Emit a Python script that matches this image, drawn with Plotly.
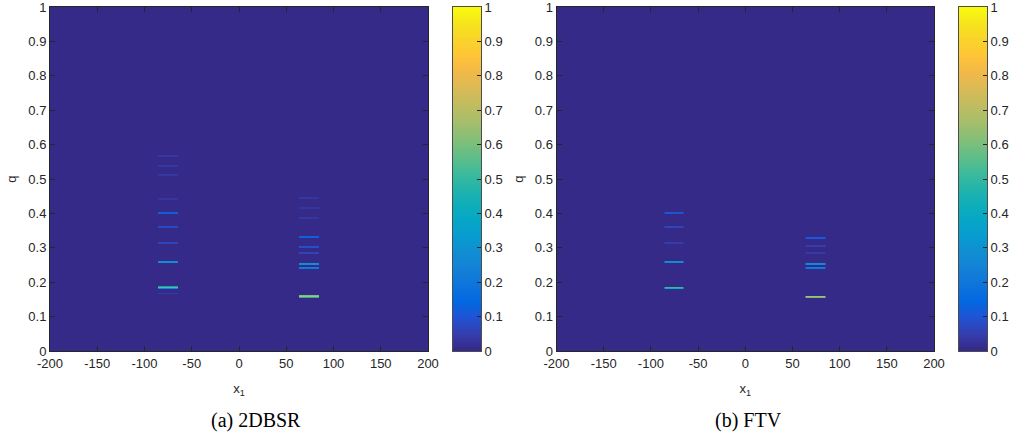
import numpy as np
import plotly.graph_objects as go

# ---------------- data ----------------
x_edges = [-200, -86, -65, 64, 85, 200]          # column edges (x1); bands at columns 1 and 3
q_rows = 333                                      # q grid 0..1

# 2DBSR, band near x1 = -76
bsr_a_q = [0.568, 0.565, 0.539, 0.536, 0.510, 0.507, 0.442, 0.439, 0.403, 0.400,
           0.361, 0.358, 0.314, 0.311, 0.258, 0.255, 0.186, 0.183, 0.180, 0.164]
bsr_a_v = [0.04, 0.03, 0.04, 0.03, 0.04, 0.03, 0.03, 0.03, 0.13, 0.11,
           0.08, 0.07, 0.07, 0.06, 0.27, 0.30, 0.36, 0.55, 0.25, 0.04]
# 2DBSR, band near x1 = 75
bsr_b_q = [0.443, 0.440, 0.414, 0.411, 0.387, 0.384, 0.329, 0.326, 0.303, 0.300,
           0.284, 0.281, 0.252, 0.249, 0.240, 0.237, 0.158, 0.155, 0.152]
bsr_b_v = [0.03, 0.03, 0.03, 0.03, 0.03, 0.03, 0.13, 0.12, 0.09, 0.08,
           0.06, 0.06, 0.30, 0.28, 0.22, 0.20, 0.60, 0.70, 0.45]
# FTV, band near x1 = -76
ftv_a_q = [0.402, 0.399, 0.361, 0.358, 0.314, 0.311, 0.258, 0.255, 0.184, 0.181]
ftv_a_v = [0.10, 0.09, 0.07, 0.06, 0.05, 0.04, 0.30, 0.26, 0.50, 0.42]
# FTV, band near x1 = 75
ftv_b_q = [0.328, 0.325, 0.305, 0.302, 0.285, 0.282, 0.252, 0.249, 0.241, 0.238, 0.157, 0.154]
ftv_b_v = [0.12, 0.10, 0.05, 0.05, 0.04, 0.04, 0.28, 0.26, 0.22, 0.20, 0.68, 0.58]

x_ticks = [-200, -150, -100, -50, 0, 50, 100, 150, 200]
q_ticks = [0, 0.1, 0.2, 0.3, 0.4, 0.5, 0.6, 0.7, 0.8, 0.9, 1]
cbar_levels = np.linspace(0, 1, 256)
captions = ["(a) 2DBSR", "(b) FTV"]

# parula colormap samples
parula = [
    (0.2081, 0.1663, 0.5292), (0.2081, 0.2386, 0.6771), (0.1253, 0.3242, 0.8303),
    (0.0060, 0.4086, 0.8828), (0.0498, 0.4586, 0.8641), (0.0779, 0.5040, 0.8384),
    (0.0641, 0.5570, 0.8240), (0.0265, 0.6137, 0.8135), (0.0228, 0.6535, 0.7768),
    (0.0590, 0.6838, 0.7254), (0.1453, 0.7098, 0.6646), (0.2586, 0.7317, 0.5954),
    (0.3953, 0.7459, 0.5244), (0.5300, 0.7491, 0.4661), (0.6473, 0.7456, 0.4188),
    (0.7525, 0.7384, 0.3768), (0.8507, 0.7299, 0.3360), (0.9450, 0.7261, 0.2886),
    (0.9990, 0.7653, 0.2164), (0.9789, 0.8271, 0.1633), (0.9589, 0.8949, 0.1132),
    (0.9763, 0.9831, 0.0538),
]
colorscale = [[i / (len(parula) - 1),
               "rgb(%d,%d,%d)" % tuple(round(c * 255) for c in p)] for i, p in enumerate(parula)]


def build_z(a_q, a_v, b_q, b_v):
    z = np.zeros((q_rows, len(x_edges) - 1))
    for q, v in zip(a_q, a_v):
        z[min(int(round(q * q_rows)), q_rows - 1), 1] = v
    for q, v in zip(b_q, b_v):
        z[min(int(round(q * q_rows)), q_rows - 1), 3] = v
    return z


y_edges = np.linspace(0, 1, q_rows + 1)
z_bsr = build_z(bsr_a_q, bsr_a_v, bsr_b_q, bsr_b_v)
z_ftv = build_z(ftv_a_q, ftv_a_v, ftv_b_q, ftv_b_v)

W, H = 1009, 447
AX = "#262626"
FONT = "Liberation Sans, Arial, Helvetica, sans-serif"
tfont = dict(family=FONT, size=13, color=AX)

plot_top, plot_bot = 7, 351
panels = [(50, 428, 453, 481), (556.5, 934, 959, 987)]
ydom = [1 - plot_bot / H, 1 - plot_top / H]

fig = go.Figure()
for i, (z, (x0, x1, c0, c1)) in enumerate(zip([z_bsr, z_ftv], panels)):
    n = 2 * i + 1
    xa, ya = "x%d" % n, "y%d" % n
    xc, yc = "x%d" % (n + 1), "y%d" % (n + 1)
    fig.add_trace(go.Heatmap(
        z=z, x=x_edges, y=y_edges, zmin=0, zmax=1, zsmooth=False,
        colorscale=colorscale, xaxis=xa, yaxis=ya, hoverinfo="skip", showscale=False))
    # colour bar as its own small axes
    fig.add_trace(go.Heatmap(
        z=cbar_levels.reshape(-1, 1), x=[0, 1], y=np.linspace(0, 1, len(cbar_levels) + 1),
        zmin=0, zmax=1, zsmooth=False, colorscale=colorscale,
        xaxis=xc, yaxis=yc, hoverinfo="skip", showscale=False))

    axis_common = dict(showgrid=False, zeroline=False, showline=True, linecolor=AX, linewidth=1,
                       ticks="inside", ticklen=5, tickcolor=AX, mirror="ticks",
                       tickfont=tfont, ticklabeloverflow="allow", automargin=False)
    fig.layout["xaxis%d" % n] = dict(
        axis_common, domain=[x0 / W, x1 / W], range=[-200, 200], anchor=ya,
        tickmode="array", tickvals=x_ticks, ticktext=[str(t) for t in x_ticks],
        title=dict(text="x<sub>1</sub>", font=tfont, standoff=14),
    )
    fig.layout["yaxis%d" % n] = dict(
        axis_common, domain=ydom, range=[0, 1], anchor=xa,
        tickmode="array", tickvals=q_ticks, ticktext=[str(t) for t in q_ticks],
        title=dict(text="q", font=tfont, standoff=8),
    )
    fig.layout["xaxis%d" % (n + 1)] = dict(
        domain=[c0 / W, c1 / W], range=[0, 1], anchor=yc, showgrid=False, zeroline=False,
        showticklabels=False, ticks="", showline=True, mirror=True, linecolor="#4d4d4d",
        linewidth=1, automargin=False)
    fig.layout["yaxis%d" % (n + 1)] = dict(
        domain=ydom, range=[0, 1], anchor=xc, side="right", showgrid=False, zeroline=False,
        showline=True, mirror=True, linecolor="#4d4d4d", linewidth=1,
        ticks="inside", ticklen=4, tickcolor=AX, tickfont=tfont, ticklabeloverflow="allow",
        tickmode="array", tickvals=q_ticks, ticktext=[str(t) for t in q_ticks], automargin=False)

for cx, cap in zip([256, 748], captions):
    fig.add_annotation(text=cap, x=cx / W, y=1 - 420 / H, xref="paper", yref="paper",
                       xanchor="center", yanchor="middle", showarrow=False,
                       font=dict(family="Liberation Serif, Times New Roman, serif", size=20, color="black"))

fig.update_layout(width=W, height=H, margin=dict(l=0, r=0, t=0, b=0),
                  paper_bgcolor="white", plot_bgcolor="white", showlegend=False)
fig.write_html("out.html")
